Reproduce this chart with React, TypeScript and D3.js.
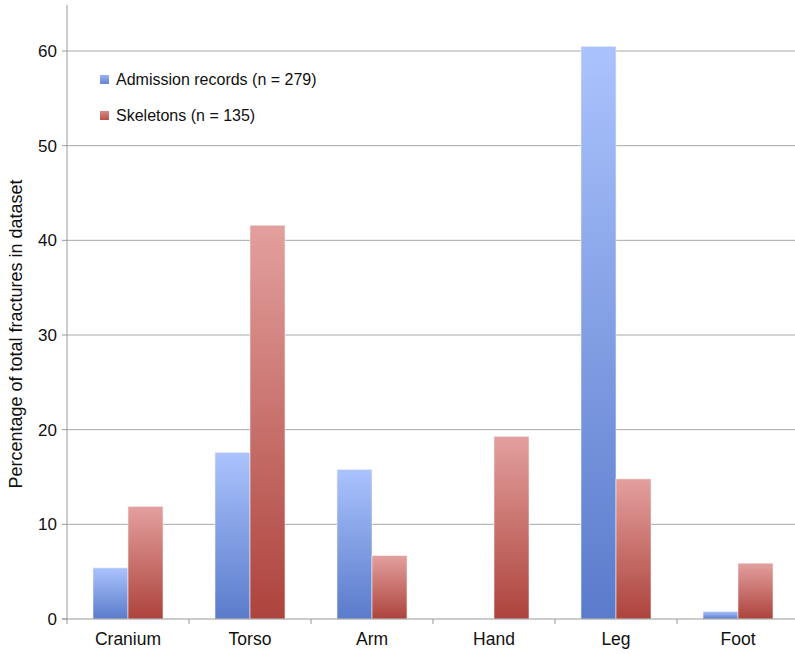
import React from "react";
import * as d3 from "d3";

const categories = ["Cranium", "Torso", "Arm", "Hand", "Leg", "Foot"];
const admissionValues = [5.4, 17.6, 15.8, 0, 60.5, 0.8];
const skeletonValues = [11.9, 41.6, 6.7, 19.3, 14.8, 5.9];
const seriesNames = ["Admission records (n = 279)", "Skeletons (n = 135)"];
const yTicks = [0, 10, 20, 30, 40, 50, 60];

const W = 795;
const H = 654;
const left = 67;
const right = 799;
const top = 5;
const bottom = 619;

export default function App() {
  const x = d3.scaleBand<string>().domain(categories).range([left, right]).paddingInner(0).paddingOuter(0);
  const y = d3.scaleLinear().domain([0, 60]).range([bottom, 51]);
  const bw = x.bandwidth();
  const barW = bw * 0.2869;
  const series = [
    { name: seriesNames[0], values: admissionValues, grad: "gradBlue", legend: "legBlue" },
    { name: seriesNames[1], values: skeletonValues, grad: "gradRed", legend: "legRed" },
  ];
  const font = "'Liberation Sans', Arial, Helvetica, sans-serif";
  const boundaries = d3.range(categories.length + 1).map((i) => left + i * bw);

  return (
    <div style={{ position: "absolute", left: 0, top: 0 }}>
      <svg width={W} height={H} style={{ display: "block", background: "#fff" }}>
        <defs>
          <linearGradient id="gradBlue" x1="0" y1="0" x2="0" y2="1">
            <stop offset="0" stopColor="#abc3fd" />
            <stop offset="1" stopColor="#5a7bcb" />
          </linearGradient>
          <linearGradient id="gradRed" x1="0" y1="0" x2="0" y2="1">
            <stop offset="0" stopColor="#e3a09e" />
            <stop offset="1" stopColor="#ad433c" />
          </linearGradient>
          <linearGradient id="legBlue" x1="0" y1="0" x2="0" y2="1">
            <stop offset="0" stopColor="#98b2f2" />
            <stop offset="1" stopColor="#6485d3" />
          </linearGradient>
          <linearGradient id="legRed" x1="0" y1="0" x2="0" y2="1">
            <stop offset="0" stopColor="#d98a86" />
            <stop offset="1" stopColor="#b5534c" />
          </linearGradient>
        </defs>
        {yTicks.filter((t) => t > 0).map((t) => (
          <line key={t} x1={left} x2={W} y1={y(t)} y2={y(t)} stroke="#a8a8a8" strokeWidth={1} />
        ))}
        {series.map((s, si) =>
          s.values.map((v, i) => {
            if (v <= 0) return null;
            const cx = (x(categories[i]) as number) + bw / 2;
            const bx = cx - barW + si * barW;
            return (
              <rect
                key={si + "-" + i}
                x={bx}
                y={y(v)}
                width={barW}
                height={y(0) - y(v)}
                fill={`url(#${s.grad})`}
                stroke="#f2f2f2"
                strokeWidth={0.6}
              />
            );
          })
        )}
        <line x1={left} x2={left} y1={top} y2={bottom} stroke="#999" strokeWidth={1} />
        {yTicks.map((t) => (
          <g key={t}>
            <line x1={left - 5} x2={left} y1={y(t)} y2={y(t)} stroke="#999" />
            <text x={57} y={y(t)} dy="0.36em" textAnchor="end" fontFamily={font} fontSize={17} fill="#111">
              {t}
            </text>
          </g>
        ))}
        <line x1={left - 5} x2={W} y1={bottom} y2={bottom} stroke="#999" strokeWidth={1} />
        {boundaries.map((b, i) => (
          <line key={i} x1={b} x2={b} y1={bottom} y2={bottom + 5} stroke="#999" />
        ))}
        {categories.map((c) => (
          <text
            key={c}
            x={(x(c) as number) + bw / 2}
            y={645}
            textAnchor="middle"
            fontFamily={font}
            fontSize={17.5}
            fill="#111"
          >
            {c}
          </text>
        ))}
        <text
          transform={`translate(22,${334}) rotate(-90)`}
          textAnchor="middle"
          fontFamily={font}
          fontSize={18}
          fill="#111"
        >
          Percentage of total fractures in dataset
        </text>
        {series.map((s, si) => (
          <g key={s.name} transform={`translate(100,${75 + si * 36})`}>
            <rect x={0} y={0} width={9} height={9} fill={`url(#${s.legend})`} />
            <text x={16} y={10} fontFamily={font} fontSize={16} fill="#111">
              {s.name}
            </text>
          </g>
        ))}
      </svg>
    </div>
  );
}
